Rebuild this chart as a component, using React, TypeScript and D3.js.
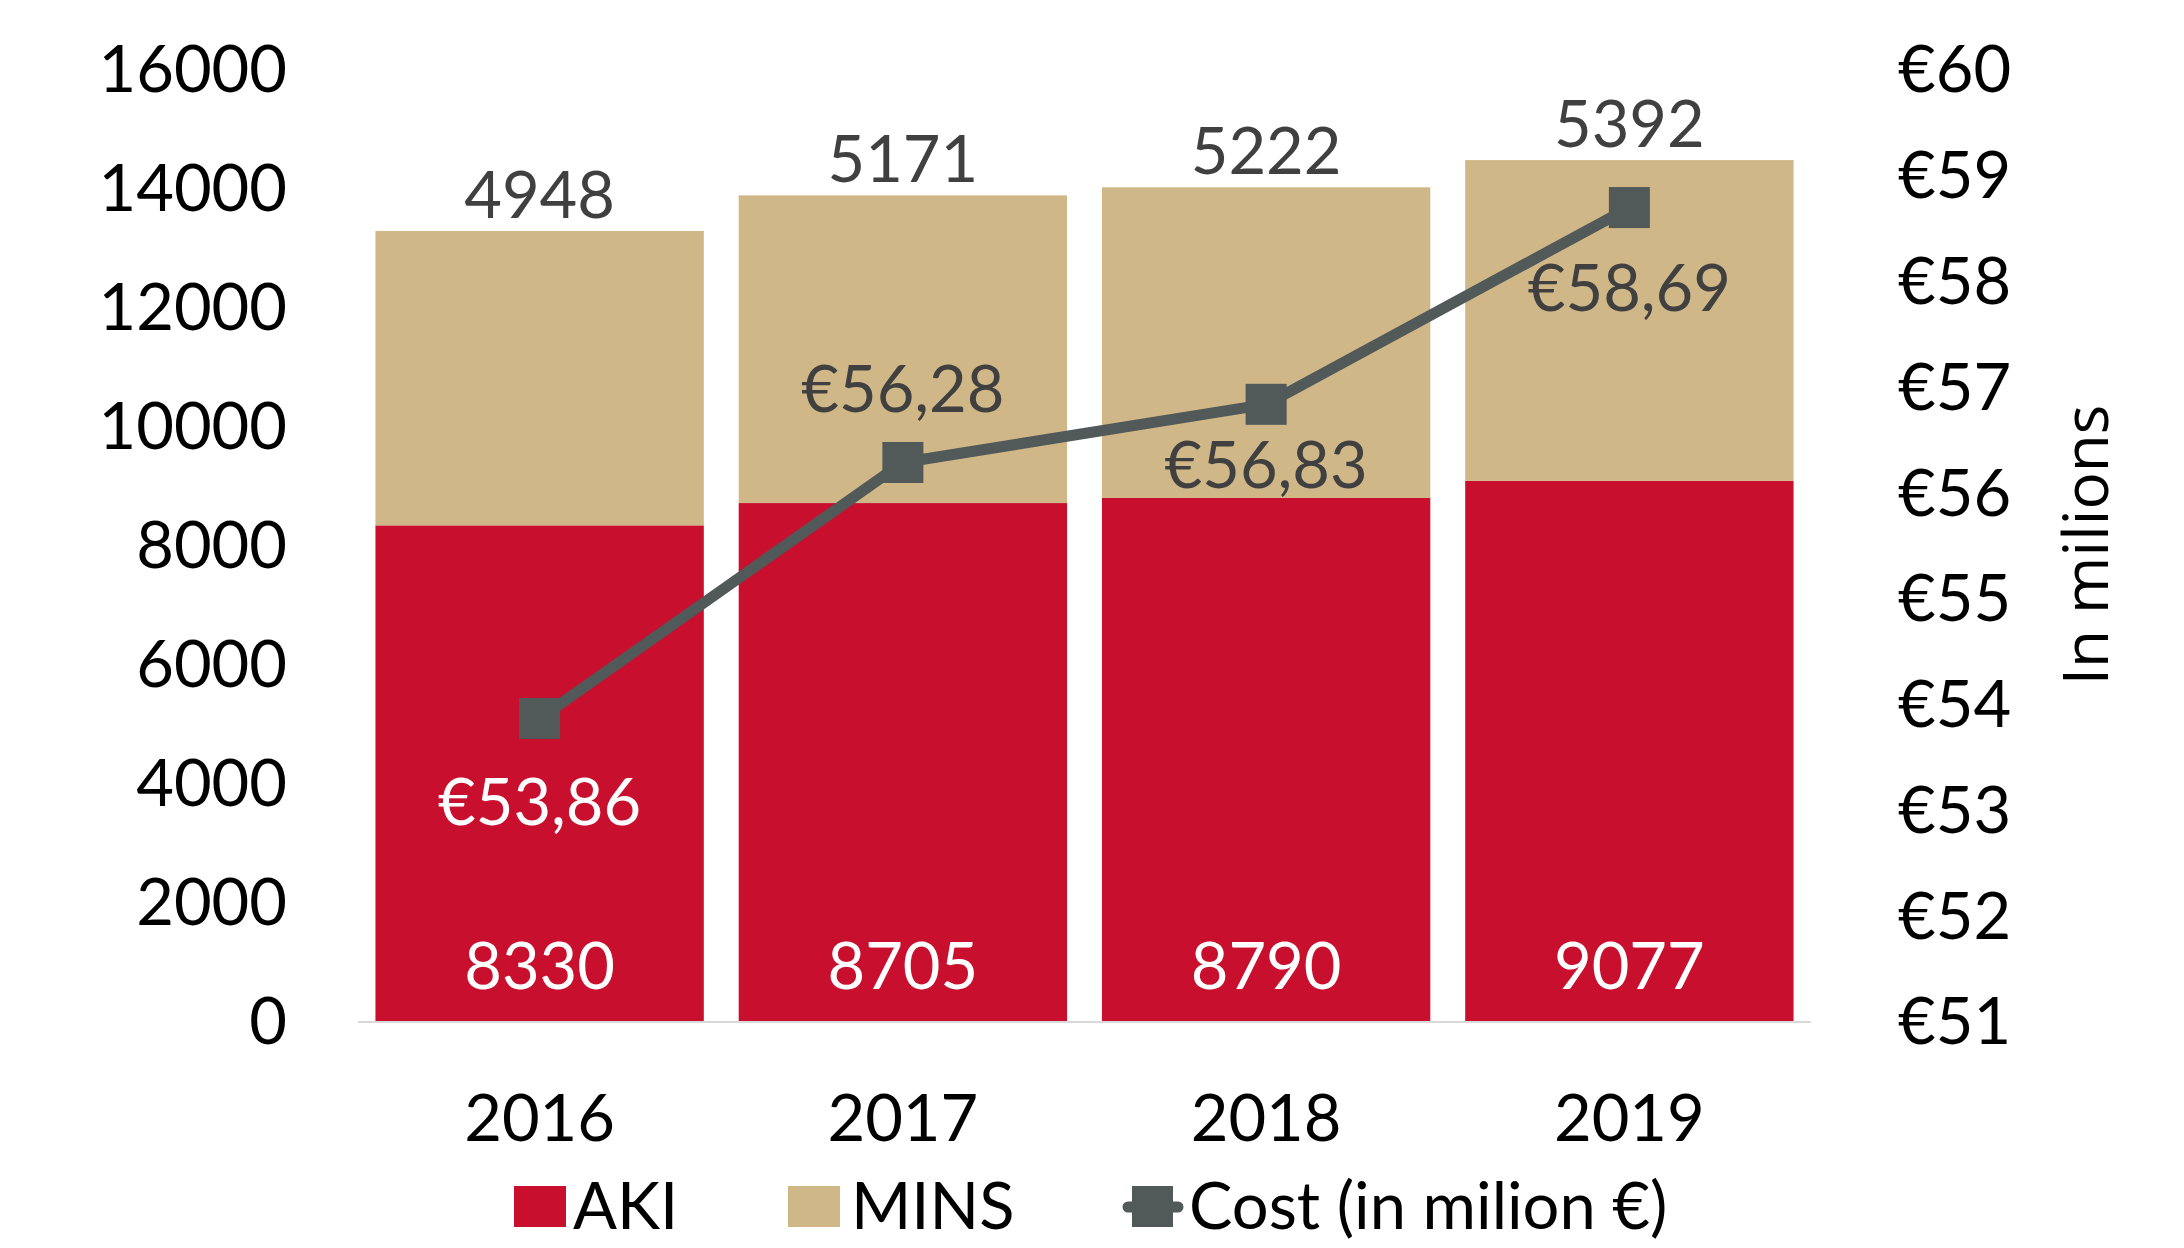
import React from "react";
import * as d3 from "d3";

const years = ["2016", "2017", "2018", "2019"];
const aki = [8330, 8705, 8790, 9077];
const mins = [4948, 5171, 5222, 5392];
const cost = [53.86, 56.28, 56.83, 58.69];
const costLabels = ["€53,86", "€56,28", "€56,83", "€58,69"];
const leftTicks = [0, 2000, 4000, 6000, 8000, 10000, 12000, 14000, 16000];
const rightTicks = [51, 52, 53, 54, 55, 56, 57, 58, 59, 60];

// layout (not data)
const costLabelDy = [83, -74, 60, 80];
const costLabelColor = ["#ffffff", "#404040", "#404040", "#404040"];

const W = 2184;
const H = 1248;
const FONT = "Lato, 'Open Sans', sans-serif";
const FS = 65;
const RED = "#C8102E";
const TAN = "#CFB787";
const GRAY = "#515959";

export default function App() {
  const x = d3.scaleBand<string>().domain(years).range([358, 1811]).paddingInner(0.096).paddingOuter(0.048);
  const yL = d3.scaleLinear().domain([0, 16000]).range([1021, 69]);
  const yR = d3.scaleLinear().domain([51, 60]).range([1021, 69]);
  const bw = x.bandwidth();
  const cx = (i: number) => (x(years[i]) as number) + bw / 2;

  const line = d3
    .line<number>()
    .x((_, i) => cx(i))
    .y((d) => yR(d));

  const ms = 41;

  return (
    <svg width={W} height={H} style={{ position: "absolute", left: 0, top: 0, background: "#fff" }} fontFamily={FONT}>
      {/* bars */}
      {years.map((yr, i) => (
        <g key={yr}>
          <rect x={x(yr)} y={yL(aki[i])} width={bw} height={yL(0) - yL(aki[i])} fill={RED} />
          <rect x={x(yr)} y={yL(aki[i] + mins[i])} width={bw} height={yL(aki[i]) - yL(aki[i] + mins[i])} fill={TAN} />
        </g>
      ))}
      {/* axis line */}
      <line x1={358} x2={1811} y1={yL(0) + 1} y2={yL(0) + 1} stroke="#D9D9D9" strokeWidth={2} />

      {/* left ticks */}
      {leftTicks.map((t) => (
        <text key={t} x={287} y={yL(t)} dy="0.36em" textAnchor="end" fontSize={FS} fill="#000">
          {t}
        </text>
      ))}
      {/* right ticks */}
      {rightTicks.map((t) => (
        <text key={t} x={1898} y={yR(t)} dy="0.36em" textAnchor="start" fontSize={FS} fill="#000">
          {"€" + t}
        </text>
      ))}
      {/* right axis title */}
      <text
        transform={`translate(2108, 545) rotate(-90)`}
        textAnchor="middle"
        fontSize={62}
        fontFamily="'Open Sans', sans-serif"
        fill="#000"
      >
        In milions
      </text>

      {/* x labels */}
      {years.map((yr, i) => (
        <text key={yr} x={cx(i)} y={1141} textAnchor="middle" fontSize={FS} fill="#000">
          {yr}
        </text>
      ))}

      {/* bar labels */}
      {years.map((yr, i) => (
        <g key={"l" + yr}>
          <text x={cx(i)} y={yL(0) - 32} textAnchor="middle" fontSize={FS} fill="#fff">
            {aki[i]}
          </text>
          <text x={cx(i)} y={yL(aki[i] + mins[i]) - 13} textAnchor="middle" fontSize={FS} fill="#404040">
            {mins[i]}
          </text>
        </g>
      ))}

      {/* cost line */}
      <path d={line(cost) || ""} fill="none" stroke={GRAY} strokeWidth={11} strokeLinejoin="round" />
      {cost.map((c, i) => (
        <rect key={"m" + i} x={cx(i) - ms / 2} y={yR(c) - ms / 2} width={ms} height={ms} fill={GRAY} />
      ))}
      {cost.map((c, i) => (
        <text
          key={"c" + i}
          x={cx(i)}
          y={yR(c) + costLabelDy[i]}
          dy="0.36em"
          textAnchor="middle"
          fontSize={FS}
          fill={costLabelColor[i]}
        >
          {costLabels[i]}
        </text>
      ))}

      {/* legend */}
      <rect x={514} y={1186} width={52} height={41} fill={RED} />
      <text x={573} y={1229} fontSize={FS} fill="#000">AKI</text>
      <rect x={788} y={1186} width={52} height={41} fill={TAN} />
      <text x={851} y={1229} fontSize={FS} fill="#000">MINS</text>
      <line x1={1128} x2={1178} y1={1207} y2={1207} stroke={GRAY} strokeWidth={11} strokeLinecap="round" />
      <rect x={1132} y={1186} width={41} height={41} fill={GRAY} />
      <text x={1189} y={1229} fontSize={FS} fill="#000">Cost (in milion €)</text>
    </svg>
  );
}
